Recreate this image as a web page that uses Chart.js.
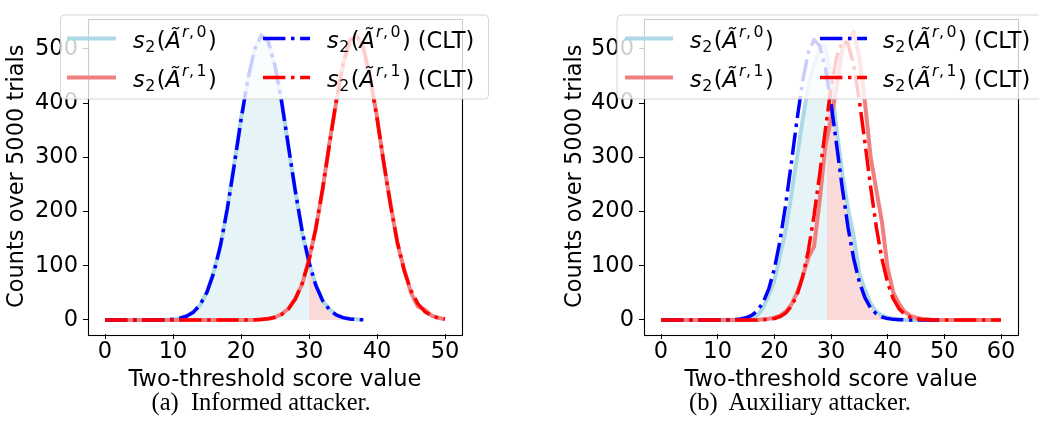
<!DOCTYPE html>
<html><head><meta charset="utf-8">
<script src="https://cdn.jsdelivr.net/npm/chart.js@4.4.0/dist/chart.umd.min.js"></script>
<style>
html,body{margin:0;padding:0;background:#fff;width:1039px;height:444px;overflow:hidden;}
#wrapA{position:absolute;left:0;top:0;width:520px;height:400px;}
#wrapB{position:absolute;left:520px;top:0;width:519px;height:400px;}
.cap{position:absolute;top:388px;line-height:28px;font-family:"Liberation Serif","Times New Roman",serif;font-size:24.5px;color:#000;white-space:nowrap;transform:translateX(-50%);}
</style></head><body>
<div id="wrapA"><canvas id="cA" width="520" height="400"></canvas></div>
<div id="wrapB"><canvas id="cB" width="519" height="400"></canvas></div>
<div class="cap" style="left:261px">(a)&nbsp; Informed attacker.</div>
<div class="cap" style="left:800px">(b)&nbsp; Auxiliary attacker.</div>
<script>
// ---------- data ----------
const xTicksA = [0, 10, 20, 30, 40, 50];
const xTicksB = [0, 10, 20, 30, 40, 50, 60];
const yTicks = [0, 100, 200, 300, 400, 500];
const thresholdA = 30;
const thresholdB = 29.3;

// (a) Informed attacker
const xA0 = [0,1,2,3,4,5,6,7,8,9,10,11,12,13,14,15,16,17,18,19,20,21,22,23,24,25,26,27,28,29,30,31,32,33,34,35,36,37,38];
const histA0 = [0,0,0,0,0,0,0,0,0,0,1,3,8,15,27,52,90,136,207,288,372,440,498,527,517,466,405,315,238,160,107,64,35,20,9,4,2,1,0];
const cltA0  = [0,0,0,0,0,0,0,0,0,0.1,1.3,3.0,6.8,14.3,28.0,51.2,87.2,138.7,205.9,285,368.3,444,499.5,524.3,513.5,469.3,400.2,318.4,236.4,163.8,105.9,63.8,35.9,18.9,9.2,4.2,1.8,0.7,0.3];
const xA1 = [0,1,2,3,4,5,6,7,8,9,10,11,12,13,14,15,16,17,18,19,20,21,22,23,24,25,26,27,28,29,30,31,32,33,34,35,36,37,38,39,40,41,42,43,44,45,46,47,48,49,50];
const histA1 = [0,0,0,0,0,0,0,0,0,0,0,0,0,0,0,0,0,0,0,0,0,0,0,1,2,5,11,21,40,66,112,168,240,326,402,470,517,524,503,445,375,288,213,141,93,50,25,19,8,4,1];
const cltA1  = [0,0,0,0,0,0,0,0,0,0,0,0,0,0,0,0,0,0,0,0,0,0.1,0.3,0.8,2.1,4.8,10.2,20.5,38.5,67.4,110,169,242,323,404,471,515,525,501,447,372,290,211,143.5,91,54,30,15.6,7.6,3.4,1.5];

// (b) Auxiliary attacker
const xB0 = [0,1,2,3,4,5,6,7,8,9,10,11,12,13,14,15,16,17,18,19,20,21,22,23,24,25,26,27,28,29,30,31,32,33,34,35,36,37,38,39,40,41,42,43,44,45,46,47,48,49];
const histB0 = [0,0,0,0,0,0,0,0,0,0,0,0,0,0,0,1,3,8,22,45,72,118,165,230,300,370,430,470,500,508,445,350,270,205,155,85,55,30,15,8,4,2,1,0,0,0,0,0,0,0];
const cltB0  = [0,0,0,0,0,0,0,0,0,0,0,0,0.3,0.7,1.7,3.9,8.4,16.9,32,56.7,94,146,212.6,289.5,369,441,493,517,506,465,400,322,242.5,171,113,70,40.5,22,11.2,5.3,2.4,1.0,0.4,0,0,0,0,0,0,0];
const xB1 = [0,1,2,3,4,5,6,7,8,9,10,11,12,13,14,15,16,17,18,19,20,21,22,23,24,25,26,27,28,29,30,31,32,33,34,35,36,37,38,39,40,41,42,43,44,45,46,47,48,49,50,51,52,53,54,55,56,57,58,59,60];
const histB1 = [0,0,0,0,0,0,0,0,0,0,0,0,0,0,0,0,0,0,1,2,4,8,15,28,50,80,115,135,220,320,370,430,500,515,532,485,400,300,240,180,95,50,30,15,8,4,2,1,0,0,0,0,0,0,0,0,0,0,0,0,0];
const cltB1  = [0,0,0,0,0,0,0,0,0,0,0,0,0,0,0,0,0,0,0.4,1.1,2.6,6,12.7,25,46,79.6,128,192,268.5,350.5,427,485,515,509.5,470.5,405,326,244.6,171,112,68,38.7,20.6,10.2,4.7,2.0,0.8,0.3,0,0,0,0,0,0,0,0,0,0,0,0,0];

// ---------- rendering ----------
const FAM = '"DejaVu Sans", "Liberation Sans", sans-serif';
const FS = 22.5;
const FONT = { family: FAM, size: FS };
const LW_CLT = 3.5;
const DASH = [6.4*LW_CLT, 1.6*LW_CLT, 1.0*LW_CLT, 1.6*LW_CLT];

function ds(xs, ys, color, width, dash, order) {
  return { data: xs.map((v, i) => ({ x: v, y: ys[i] })), borderColor: color, backgroundColor: color,
    borderWidth: width, borderDash: dash || [], pointRadius: 0, fill: false, tension: 0, order: order,
    borderCapStyle: 'butt', borderJoinStyle: 'round' };
}

const fillPlugin = {
  id: 'thrFill',
  beforeDatasetsDraw(chart, args, o) {
    const { ctx, chartArea: ca, scales } = chart;
    const x = scales.x, y = scales.y;
    const tp = x.getPixelForValue(o.thr);
    const y0 = y.getPixelForValue(0);
    const path = () => {
      ctx.beginPath();
      ctx.moveTo(x.getPixelForValue(o.xs[0]), y0);
      for (let i = 0; i < o.xs.length; i++) ctx.lineTo(x.getPixelForValue(o.xs[i]), y.getPixelForValue(o.ys[i]));
      ctx.lineTo(x.getPixelForValue(o.xs[o.xs.length - 1]), y0);
      ctx.closePath();
    };
    ctx.save();
    ctx.beginPath(); ctx.rect(ca.left, ca.top, tp - ca.left, ca.bottom - ca.top); ctx.clip();
    path(); ctx.fillStyle = 'rgba(173,216,230,0.3)'; ctx.fill();
    ctx.restore();
    ctx.save();
    ctx.beginPath(); ctx.rect(tp, ca.top, ca.right - tp, ca.bottom - ca.top); ctx.clip();
    path(); ctx.fillStyle = 'rgba(240,128,128,0.3)'; ctx.fill();
    ctx.restore();
  }
};

const framePlugin = {
  id: 'frame',
  afterDatasetsDraw(chart) {
    const { ctx, chartArea: ca } = chart;
    ctx.save();
    ctx.strokeStyle = '#000'; ctx.lineWidth = 1.1;
    ctx.strokeRect(Math.round(ca.left) + 0.5, Math.round(ca.top) + 0.5, Math.round(ca.right - ca.left), Math.round(ca.bottom - ca.top));
    ctx.restore();
  }
};

function drawMath(ctx, x, base, size, supDigit, clt) {
  // [text, italic, scale, dy (em, +down), extra gap after (px)]
  const parts = [
    ['s', true, 1, 0, 0.5],
    ['2', false, 0.7, 0.22, 1.5],
    ['(', false, 1, 0, 0],
    ['\u00C3', true, 1, 0, 1],
    ['r', true, 0.7, -0.47, 0.5],
    [',', false, 0.7, -0.47, 2.5],
    [supDigit, false, 0.7, -0.47, 1.5],
    [')', false, 1, 0, 0],
  ];
  if (clt) parts.push([' (CLT)', false, 1, 0, 0]);
  for (const [t, it, sc, dy, gap] of parts) {
    ctx.font = (it ? 'italic ' : '') + (size * sc) + 'px ' + FAM;
    ctx.fillText(t, x, base + dy * size);
    x += ctx.measureText(t).width + gap;
  }
}

const legendPlugin = {
  id: 'mplLegend',
  afterDraw(chart, args, o) {
    const ctx = chart.ctx;
    ctx.save();
    const b = o.box, r = 4;
    ctx.beginPath();
    ctx.moveTo(b.x + r, b.y);
    ctx.arcTo(b.x + b.w, b.y, b.x + b.w, b.y + b.h, r);
    ctx.arcTo(b.x + b.w, b.y + b.h, b.x, b.y + b.h, r);
    ctx.arcTo(b.x, b.y + b.h, b.x, b.y, r);
    ctx.arcTo(b.x, b.y, b.x + b.w, b.y, r);
    ctx.closePath();
    ctx.fillStyle = 'rgba(255,255,255,0.8)'; ctx.fill();
    ctx.strokeStyle = 'rgba(204,204,204,0.8)'; ctx.lineWidth = 1; ctx.stroke();
    for (const it of o.items) {
      const col = o.cols[it.col];
      const ry = o.rows[it.row];
      ctx.beginPath();
      ctx.strokeStyle = it.color; ctx.lineWidth = it.width; ctx.setLineDash(it.dash || []);
      ctx.lineCap = 'butt';
      ctx.moveTo(col.l0, ry); ctx.lineTo(col.l1, ry); ctx.stroke();
      ctx.setLineDash([]);
      ctx.fillStyle = '#000'; ctx.textBaseline = 'alphabetic'; ctx.textAlign = 'left';
      drawMath(ctx, col.t, ry + 9, FS, it.sup, it.clt);
    }
    ctx.restore();
  }
};

function makeChart(id, c) {
  const items = [
    { col: 0, row: 0, color: '#add8e6', width: 4, sup: '0', clt: false },
    { col: 0, row: 1, color: '#f08080', width: 4, sup: '1', clt: false },
    { col: 1, row: 0, color: '#0000ff', width: LW_CLT, dash: DASH, sup: '0', clt: true },
    { col: 1, row: 1, color: '#ff0000', width: LW_CLT, dash: DASH, sup: '1', clt: true },
  ];
  return new Chart(document.getElementById(id), {
    type: 'line',
    data: { datasets: [
      ds(c.x1, c.clt1, '#ff0000', LW_CLT, DASH, 0),
      ds(c.x0, c.clt0, '#0000ff', LW_CLT, DASH, 1),
      ds(c.x1, c.h1, '#f08080', 4, null, 2),
      ds(c.x0, c.h0, '#add8e6', 4, null, 3),
    ]},
    options: {
      responsive: false, animation: false, devicePixelRatio: 1,
      layout: { padding: { left: 0, right: c.padR, top: 3, bottom: 0 } },
      plugins: {
        legend: { display: false }, tooltip: { enabled: false },
        thrFill: { xs: c.x0, ys: c.h0, thr: c.thr },
        mplLegend: { box: c.box, rows: [38.5, 77.5], cols: c.cols, items: items },
      },
      scales: {
        x: {
          type: 'linear', min: c.xmin, max: c.xmax,
          afterBuildTicks: s => { s.ticks = c.xticks.map(v => ({ value: v })); },
          afterFit: s => { s.height = 66; },
          ticks: { font: FONT, color: '#000', padding: 0, maxRotation: 0, autoSkip: false },
          grid: { display: true, drawOnChartArea: false, drawTicks: true, tickLength: 5, color: '#000', lineWidth: 1 },
          border: { display: false },
          title: { display: true, text: 'Two-threshold score value', font: FONT, color: '#000', padding: { top: 0, bottom: 6 } },
        },
        y: {
          type: 'linear', min: -26, max: 556,
          afterBuildTicks: s => { s.ticks = yTicks.map(v => ({ value: v })); },
          afterFit: s => { s.width = c.yw; },
          ticks: { font: FONT, color: '#000', padding: 5 },
          grid: { display: true, drawOnChartArea: false, drawTicks: true, tickLength: 5, color: '#000', lineWidth: 1 },
          border: { display: false },
          title: { display: true, text: 'Counts over 5000 trials', font: FONT, color: '#000', padding: { top: c.ytp, bottom: 0 } },
        },
      },
    },
    plugins: [fillPlugin, framePlugin, legendPlugin],
  });
}

makeChart('cA', {
  x0: xA0, h0: histA0, clt0: cltA0, x1: xA1, h1: histA1, clt1: cltA1,
  xmin: -2.5, xmax: 52.5, xticks: xTicksA, thr: thresholdA,
  padR: 58, yw: 88, ytp: 4,
  box: { x: 60.5, y: 15, w: 428, h: 84 },
  cols: [{ l0: 67, l1: 116, t: 133 }, { l0: 263, l1: 310, t: 327 }],
});
makeChart('cB', {
  x0: xB0, h0: histB0, clt0: cltB0, x1: xB1, h1: histB1, clt1: cltB1,
  xmin: -3, xmax: 63, xticks: xTicksB, thr: thresholdB,
  padR: 21, yw: 124, ytp: 42,
  box: { x: 97, y: 15, w: 440, h: 84 },
  cols: [{ l0: 105, l1: 153, t: 170 }, { l0: 300, l1: 347, t: 363 }],
});
</script>
</body></html>
